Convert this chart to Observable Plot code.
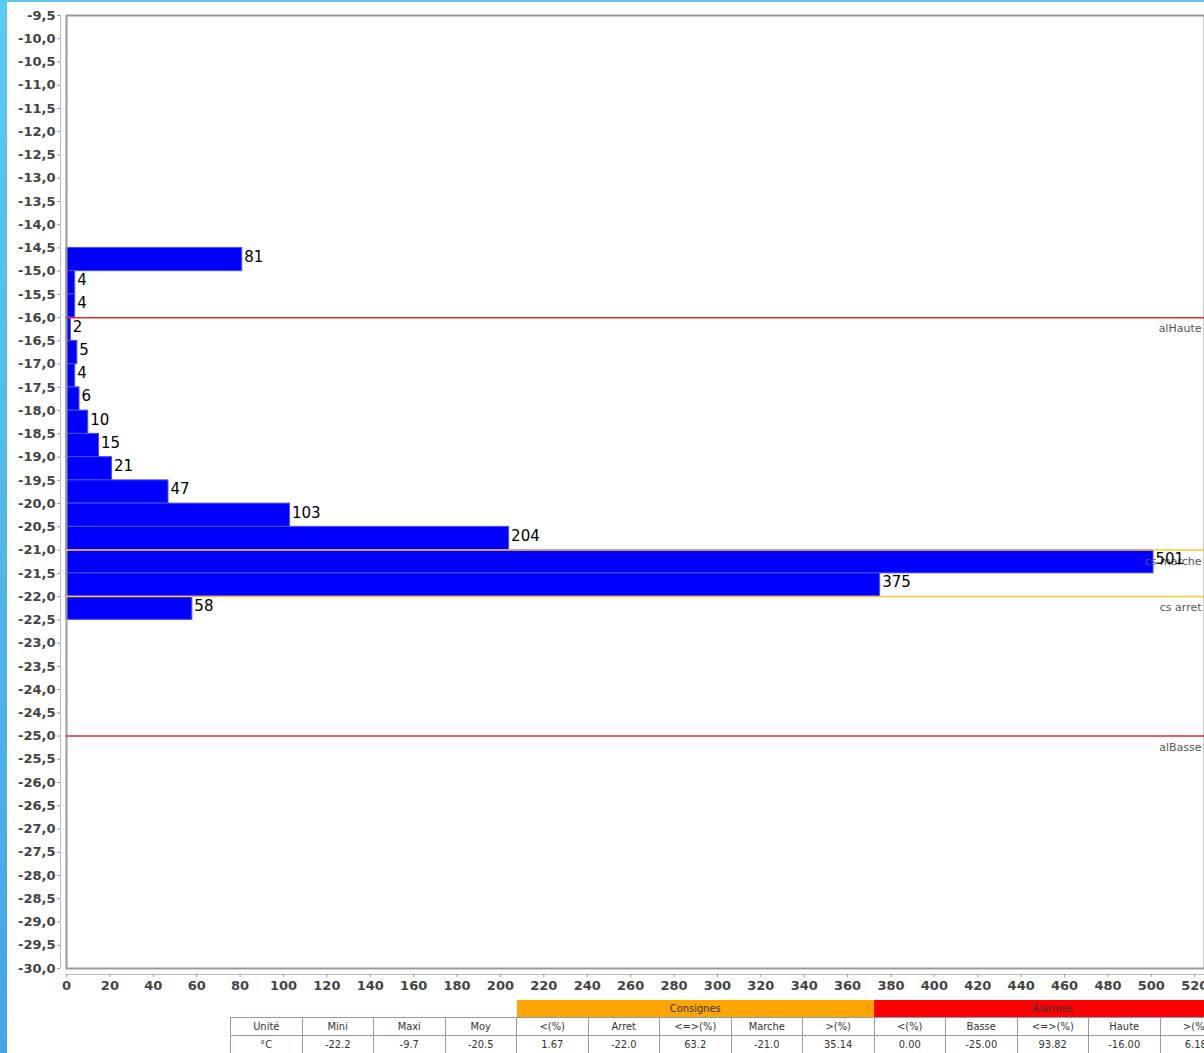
<!DOCTYPE html>
<html><head><meta charset="utf-8">
<script src="https://cdn.jsdelivr.net/npm/d3@7"></script>
<script src="https://cdn.jsdelivr.net/npm/@observablehq/plot@0.6"></script>
<style>
html,body{margin:0;padding:0;overflow:hidden;background:#fff}
body{width:1204px;height:1053px;position:relative;font-family:"DejaVu Sans",sans-serif}
#strip{position:absolute;left:0;top:0;width:7px;height:1053px;background:linear-gradient(#5cc9f1,#46a4e6);z-index:2}
#topline{position:absolute;left:0;top:0;width:1204px;height:2px;background:#5cc9f1;z-index:2}
#chart{position:absolute;left:0;top:0}
table{position:absolute;left:230px;top:1000px;border-collapse:collapse;font-family:"DejaVu Sans Condensed","Liberation Sans Narrow",sans-serif;font-size:11px;color:#333;table-layout:fixed}
td{width:70.5px;min-width:70.5px;max-width:70.5px;height:17px;border:1px solid #8c9bb0;text-align:center;padding:0;white-space:nowrap;overflow:hidden}
td.blank{border:none}
td.grp{color:#333}
</style>
</head><body>
<div id="strip"></div><div id="topline"></div>
<div id="chart"></div>
<table id="tbl"></table>
<script>
// Histogram bins (upper edge of each 0.5 °C bin) and counts
const binUpper = [-14.5,-15.0,-15.5,-16.0,-16.5,-17.0,-17.5,-18.0,-18.5,-19.0,-19.5,-20.0,-20.5,-21.0,-21.5,-22.0];
const binWidth = 0.5;
const counts = [81,4,4,2,5,4,6,10,15,21,47,103,204,501,375,58];

// Threshold lines
const thresholdNames = ["alHaute","cs marche","cs arret","alBasse"];
const thresholdValues = [-16.0,-21.0,-22.0,-25.0];
const thresholdKinds = ["alarme","consigne","consigne","alarme"];

// Axis ticks
const yTicks = d3.range(-30, -9.49, 0.5);
const xTicks = d3.range(0, 521, 20);

// Table
const groupNames = ["Consignes","Alarmes"];
const tableHeaders = ["Unité","Mini","Maxi","Moy","<(%)","Arret","<=>(%)","Marche",">(%)","<(%)","Basse","<=>(%)","Haute",">(%)"];
const tableValues = ["°C","-22.2","-9.7","-20.5","1.67","-22.0","63.2","-21.0","35.14","0.00","-25.00","93.82","-16.00","6.18"];

const kindColor = {alarme:"#ee2a2a", consigne:"#ffc832"};
const bins = binUpper.map((hi,i)=>({hi, lo: hi - binWidth, count: counts[i]}));
const thr = thresholdNames.map((name,i)=>({name, value: thresholdValues[i], color: kindColor[thresholdKinds[i]]}));
const fmt = d => d.toFixed(1).replace(".", ",");

const chart = Plot.plot({
  width: 1204, height: 1000,
  marginLeft: 66, marginRight: 0, marginTop: 15, marginBottom: 32,
  x: {domain: [0, 524.5]},
  y: {domain: [-30, -9.5]},
  style: {fontFamily: "DejaVu Sans", fontSize: "13px", color: "#444", background: "transparent", overflow: "visible"},
  marks: [
    Plot.rect(bins, {x1: 0, x2: "count", y1: "lo", y2: "hi", fill: "#0000ff", stroke: "#4d4dff", strokeWidth: 1}),
    Plot.frame({stroke: "#999", strokeWidth: 2}),
    Plot.ruleY(thr, {y: "value", stroke: "color", strokeWidth: 1.5}),
    Plot.text(thr, {y: "value", text: "name", frameAnchor: "right", textAnchor: "end", dx: -3, dy: 11, fill: "#555", fontSize: 11, fontWeight: "normal"}),
    Plot.text(bins, {x: "count", y: d => (d.lo + d.hi) / 2, text: "count", textAnchor: "start", dx: 2, dy: -2.5, fill: "#000", fontSize: 15, fontWeight: "normal"}),
    Plot.ruleX([0], {dx: -6, stroke: "#bbb"}),
    Plot.ruleY([-30], {dy: 6, stroke: "#bbb"}),
    Plot.axisY({ticks: yTicks, tickFormat: fmt, tickSize: 3, tickPadding: 2, dx: -6, fontWeight: "bold", stroke: "#999", fill: "#444", label: null}),
    Plot.axisX({ticks: xTicks, tickFormat: d => String(d), tickSize: 3, tickPadding: 3, dy: 6, fontWeight: "bold", stroke: "#999", fill: "#444", label: null})
  ]
});
document.getElementById("chart").appendChild(chart);

// Build table
const tbl = document.getElementById("tbl");
const r0 = tbl.insertRow();
for (let i = 0; i < 4; i++) { const c = r0.insertCell(); c.className = "blank"; }
const grpColors = ["#ffa500", "#ff0000"];
groupNames.forEach((g, i) => {
  const c = r0.insertCell(); c.colSpan = 5; c.textContent = g; c.className = "grp";
  c.style.background = grpColors[i]; c.style.border = "none"; c.style.width = "357px";
});
const r1 = tbl.insertRow();
tableHeaders.forEach(h => { r1.insertCell().textContent = h; });
const r2 = tbl.insertRow();
tableValues.forEach(v => { r2.insertCell().textContent = v; });
</script>
</body></html>
